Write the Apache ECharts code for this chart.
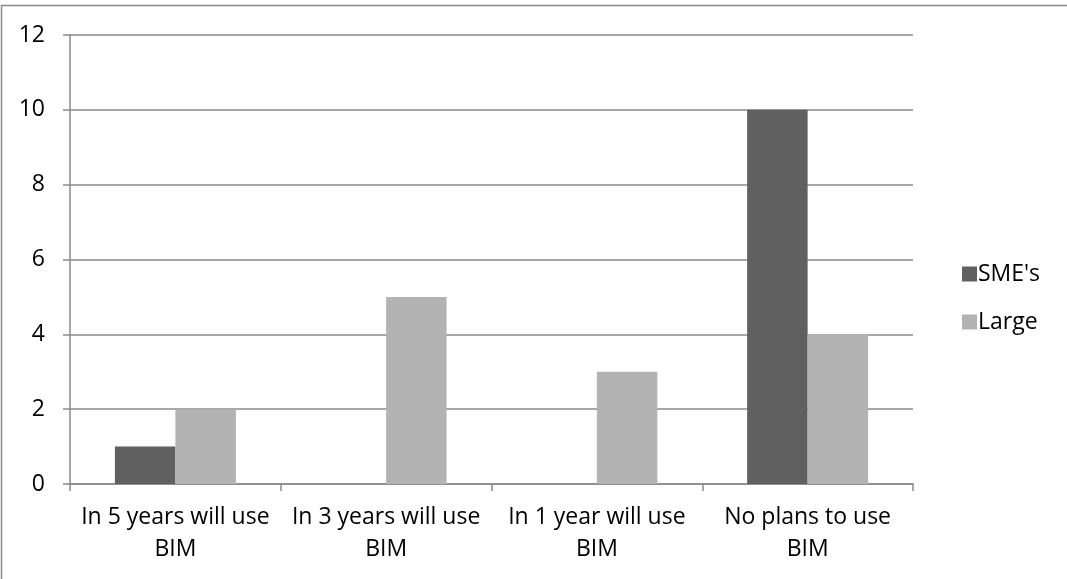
<!DOCTYPE html>
<html>
<head>
<meta charset="utf-8">
<script src="https://cdn.jsdelivr.net/npm/echarts@6/dist/echarts.min.js"></script>
<style>
html,body{margin:0;padding:0;background:#fff;}
#chart{width:1067px;height:579px;}
</style>
</head>
<body>
<div id="chart"></div>
<script>
var categories = ["In 5 years will use\nBIM", "In 3 years will use\nBIM", "In 1 year will use\nBIM", "No plans to use\nBIM"];
var smeValues = [1, 0, 0, 10];
var largeValues = [2, 5, 3, 4];
var seriesNames = ["SME's", "Large"];
var yMin = 0, yMax = 12, yStep = 2;

var FONT = "Open Sans";
var chart = echarts.init(document.getElementById('chart'), null, {renderer: 'canvas'});
chart.setOption({
  animation: false,
  backgroundColor: '#ffffff',
  textStyle: {fontFamily: FONT, color: '#000'},
  graphic: [{
    type: 'rect',
    shape: {x: 1.5, y: 5.5, width: 1200, height: 700},
    style: {fill: 'none', stroke: '#8a8a8a', lineWidth: 1.5},
    silent: true
  }],
  grid: {left: 70, right: 154, top: 35, bottom: 95, containLabel: false},
  legend: {
    orient: 'vertical',
    left: 957,
    top: 254,
    itemWidth: 15,
    itemHeight: 15,
    itemGap: 18,
    icon: 'rect',
    textStyle: {fontFamily: FONT, fontSize: 23, color: '#000', lineHeight: 30, padding: [0, 0, 0, -4]},
    data: seriesNames
  },
  xAxis: {
    type: 'category',
    data: categories,
    axisLine: {lineStyle: {color: '#8a8a8a', width: 1.5}},
    axisTick: {show: true, length: 7, lineStyle: {color: '#8a8a8a', width: 1.5}},
    axisLabel: {fontFamily: FONT, fontSize: 23, color: '#000', lineHeight: 32, margin: 17, interval: 0}
  },
  yAxis: {
    type: 'value',
    min: yMin, max: yMax, interval: yStep,
    axisLine: {show: true, lineStyle: {color: '#8a8a8a', width: 1.5}},
    axisTick: {show: true, length: 7, lineStyle: {color: '#8a8a8a', width: 1.5}},
    splitLine: {show: true, lineStyle: {color: '#8a8a8a', width: 1.5}},
    axisLabel: {fontFamily: FONT, fontSize: 23, color: '#000', margin: 25}
  },
  series: [
    {name: seriesNames[0], type: 'bar', data: smeValues, barGap: '0%', barCategoryGap: '42.6%',
     itemStyle: {color: '#606060'}},
    {name: seriesNames[1], type: 'bar', data: largeValues, barGap: '0%', barCategoryGap: '42.6%',
     itemStyle: {color: '#b3b3b3'}}
  ]
});
</script>
</body>
</html>
